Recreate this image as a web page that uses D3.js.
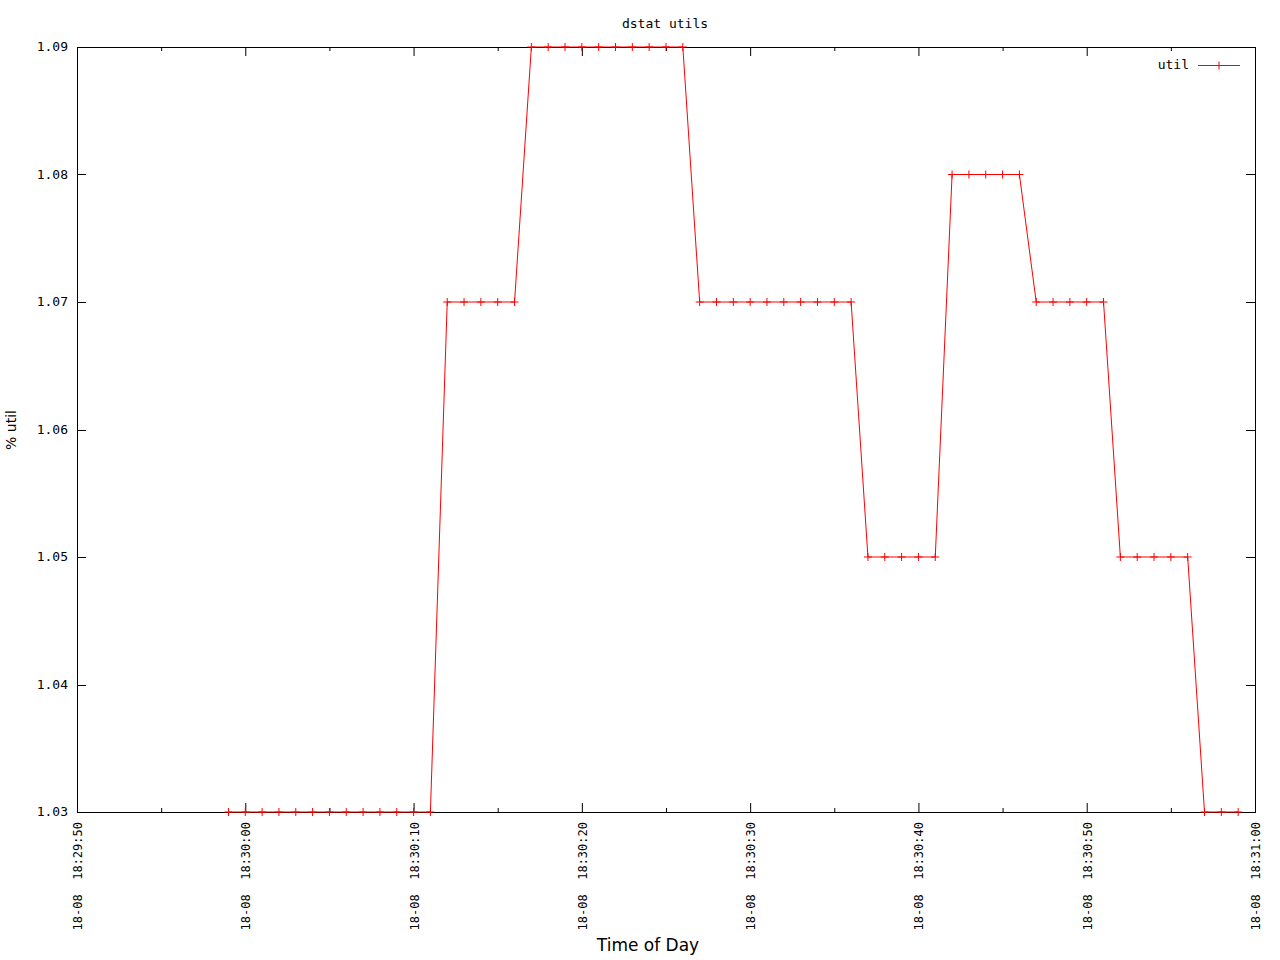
<!DOCTYPE html>
<html>
<head>
<meta charset="utf-8">
<script src="https://cdn.jsdelivr.net/npm/d3@7"></script>
<style>
  body { margin: 0; background: #fff; }
  svg { display: block; }
</style>
</head>
<body>
<div class="chart"></div>
<script>
// sample times (18-08, one per second) and the util reading at each
const times = [
    "18:29:59", "18:30:00", "18:30:01", "18:30:02", "18:30:03", "18:30:04", "18:30:05",
    "18:30:06", "18:30:07", "18:30:08", "18:30:09", "18:30:10", "18:30:11", "18:30:12",
    "18:30:13", "18:30:14", "18:30:15", "18:30:16", "18:30:17", "18:30:18", "18:30:19",
    "18:30:20", "18:30:21", "18:30:22", "18:30:23", "18:30:24", "18:30:25", "18:30:26",
    "18:30:27", "18:30:28", "18:30:29", "18:30:30", "18:30:31", "18:30:32", "18:30:33",
    "18:30:34", "18:30:35", "18:30:36", "18:30:37", "18:30:38", "18:30:39", "18:30:40",
    "18:30:41", "18:30:42", "18:30:43", "18:30:44", "18:30:45", "18:30:46", "18:30:47",
    "18:30:48", "18:30:49", "18:30:50", "18:30:51", "18:30:52", "18:30:53", "18:30:54",
    "18:30:55", "18:30:56", "18:30:57", "18:30:58", "18:30:59"
];
const utilValues = [
    1.03, 1.03, 1.03, 1.03, 1.03, 1.03, 1.03,
    1.03, 1.03, 1.03, 1.03, 1.03, 1.03, 1.07,
    1.07, 1.07, 1.07, 1.07, 1.09, 1.09, 1.09,
    1.09, 1.09, 1.09, 1.09, 1.09, 1.09, 1.09,
    1.07, 1.07, 1.07, 1.07, 1.07, 1.07, 1.07,
    1.07, 1.07, 1.07, 1.05, 1.05, 1.05, 1.05,
    1.05, 1.08, 1.08, 1.08, 1.08, 1.08, 1.07,
    1.07, 1.07, 1.07, 1.07, 1.05, 1.05, 1.05,
    1.05, 1.05, 1.03, 1.03, 1.03
];
const xDomain = ["18:29:50", "18:31:00"];
const yDomain = [1.03, 1.09];
const yTicks = [1.03, 1.04, 1.05, 1.06, 1.07, 1.08, 1.09];
const datePrefix = "18-08";
const seriesName = "util";

const width = 1280, height = 960;
const margin = { top: 47, right: 25, bottom: 148, left: 77 };
const innerW = width - margin.left - margin.right;
const innerH = height - margin.top - margin.bottom;

const parseT = d3.timeParse("%H:%M:%S");
const fmtT = d3.timeFormat("%H:%M:%S");
const data = times.map((t, i) => ({ t: parseT(t), v: utilValues[i] }));

const svg = d3.select(".chart").append("svg")
    .attr("width", width)
    .attr("height", height);

const g = svg.append("g")
    .attr("transform", "translate(" + margin.left + "," + margin.top + ")");

const x = d3.scaleTime().domain(xDomain.map(parseT)).range([0, innerW]);
const y = d3.scaleLinear().domain(yDomain).range([innerH, 0]);

const majorTicks = d3.timeSecond.every(10).range(x.domain()[0], d3.timeSecond.offset(x.domain()[1], 1));
const minorTicks = d3.timeSecond.every(5).range(x.domain()[0], x.domain()[1]).filter(d => d.getSeconds() % 10 !== 0);

const mono = "'DejaVu Sans Mono', monospace";

// x ticks, bottom and top, pointing inward
g.selectAll(".xmaj-b").data(majorTicks).enter().append("line")
    .attr("x1", d => x(d) + 0.5).attr("x2", d => x(d) + 0.5)
    .attr("y1", innerH).attr("y2", innerH - 9)
    .attr("stroke", "#000");
g.selectAll(".xmaj-t").data(majorTicks).enter().append("line")
    .attr("x1", d => x(d) + 0.5).attr("x2", d => x(d) + 0.5)
    .attr("y1", 0).attr("y2", 9)
    .attr("stroke", "#000");
g.selectAll(".xmin-b").data(minorTicks).enter().append("line")
    .attr("x1", d => x(d) + 0.5).attr("x2", d => x(d) + 0.5)
    .attr("y1", innerH).attr("y2", innerH - 4)
    .attr("stroke", "#000");
g.selectAll(".xmin-t").data(minorTicks).enter().append("line")
    .attr("x1", d => x(d) + 0.5).attr("x2", d => x(d) + 0.5)
    .attr("y1", 0).attr("y2", 4)
    .attr("stroke", "#000");

// x tick labels, rotated
g.selectAll(".xlab").data(majorTicks).enter().append("text")
    .attr("transform", d => "translate(" + (x(d) + 5) + "," + (innerH + 10) + ") rotate(-90)")
    .attr("text-anchor", "end")
    .style("font-family", mono)
    .style("font-size", "12px")
    .style("white-space", "pre")
    .attr("xml:space", "preserve")
    .text(d => datePrefix + "  " + fmtT(d));

// y ticks, left and right
g.selectAll(".ytl").data(yTicks).enter().append("line")
    .attr("x1", 0).attr("x2", 9)
    .attr("y1", d => Math.round(y(d)) + 0.5).attr("y2", d => Math.round(y(d)) + 0.5)
    .attr("stroke", "#000");
g.selectAll(".ytr").data(yTicks).enter().append("line")
    .attr("x1", innerW).attr("x2", innerW - 9)
    .attr("y1", d => Math.round(y(d)) + 0.5).attr("y2", d => Math.round(y(d)) + 0.5)
    .attr("stroke", "#000");
g.selectAll(".ylab").data(yTicks).enter().append("text")
    .attr("x", -9)
    .attr("y", d => y(d) + 4)
    .attr("text-anchor", "end")
    .style("font-family", mono)
    .style("font-size", "13px")
    .text(d => d3.format(".2f")(d));

// frame
g.append("rect")
    .attr("x", 0.5).attr("y", 0.5)
    .attr("width", innerW).attr("height", innerH)
    .attr("fill", "none")
    .attr("stroke", "#000");

// series line
const line = d3.line().x(d => x(d.t)).y(d => y(d.v));
g.append("path")
    .datum(data)
    .attr("d", line)
    .attr("fill", "none")
    .attr("stroke", "#f00")
    .attr("stroke-width", 1);

// plus markers
g.selectAll(".pt").data(data).enter().append("path")
    .attr("transform", d => "translate(" + x(d.t) + "," + y(d.v) + ")")
    .attr("d", "M-4,0H4M0,-4V4")
    .attr("stroke", "#f00")
    .attr("fill", "none");

// legend
const legend = g.append("g").attr("transform", "translate(" + (innerW - 55) + ",18)");
legend.append("text")
    .attr("x", -11).attr("y", 4)
    .attr("text-anchor", "end")
    .style("font-family", mono)
    .style("font-size", "13px")
    .text(seriesName);
legend.append("line")
    .attr("x1", -2).attr("x2", 40)
    .attr("y1", 0.5).attr("y2", 0.5)
    .attr("stroke", "#f00");
legend.append("path")
    .attr("transform", "translate(19,0.5)")
    .attr("d", "M-4,0H4M0,-4V4")
    .attr("stroke", "#f00");

// title and axis titles
svg.append("text")
    .attr("x", 665).attr("y", 28)
    .attr("text-anchor", "middle")
    .style("font-family", mono)
    .style("font-size", "13px")
    .text("dstat utils");

svg.append("text")
    .attr("x", 648).attr("y", 951)
    .attr("text-anchor", "middle")
    .style("font-family", "'DejaVu Sans', sans-serif")
    .style("font-size", "17px")
    .text("Time of Day");

svg.append("text")
    .attr("transform", "translate(16,430) rotate(-90)")
    .attr("text-anchor", "middle")
    .style("font-family", "'DejaVu Sans', sans-serif")
    .style("font-size", "14px")
    .text("% util");
</script>
</body>
</html>
